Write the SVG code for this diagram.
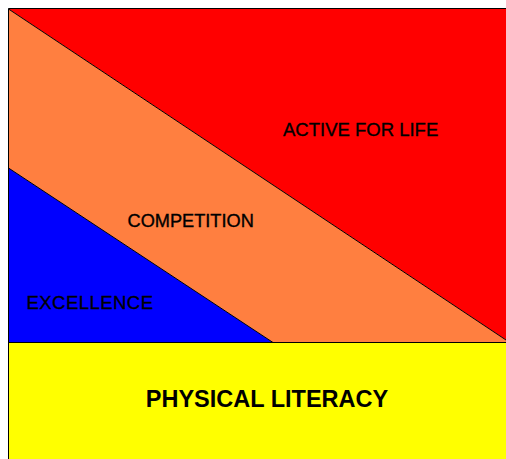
<svg xmlns="http://www.w3.org/2000/svg" width="506" height="459" viewBox="0 0 506 459">
<style>
.lbl{font-family:"Liberation Sans",Arial,sans-serif;fill:#000}
.reg{stroke:#000;stroke-width:0.35}
.edge{stroke:#000;stroke-width:1;fill:none}
</style>
<rect width="506" height="459" fill="#fff"/>
<g id="active-for-life">
<polygon points="8.5,9 506,9 506,340" fill="#FF0000"/>
<text class="lbl reg" x="283" y="136" font-size="18.5">ACTIVE FOR LIFE</text>
</g>
<g id="competition">
<polygon points="8.5,9 506,340 506,342.5 273,342.5 8.5,168" fill="#FF7F40"/>
<text class="lbl reg" x="127.5" y="226.7" font-size="18.2">COMPETITION</text>
</g>
<g id="excellence">
<polygon points="8.5,168 273,342.5 8.5,342.5" fill="#0000FF"/>
<text class="lbl reg" x="26.5" y="309.3" font-size="18.5" textLength="126.5">EXCELLENCE</text>
</g>
<g id="physical-literacy">
<rect x="8.5" y="342.5" width="497.5" height="116.5" fill="#FFFF00"/>
<text class="lbl" x="267" y="406.7" font-size="23.5" font-weight="bold" text-anchor="middle">PHYSICAL LITERACY</text>
</g>
<g id="connectors">
<line class="edge" x1="8.5" y1="9" x2="506" y2="340"/>
<line class="edge" x1="8.5" y1="168" x2="273" y2="342.5"/>
<line class="edge" x1="8.5" y1="342.5" x2="506" y2="342.5"/>
<line class="edge" x1="8.5" y1="8.5" x2="506" y2="8.5"/>
<line class="edge" x1="8.5" y1="8.5" x2="8.5" y2="459"/>
</g>
</svg>
